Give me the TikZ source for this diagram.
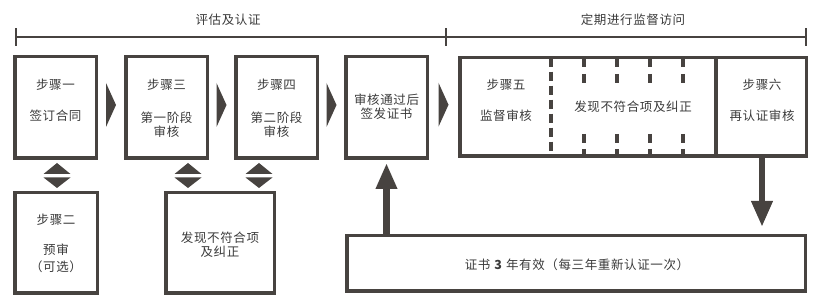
\documentclass[tikz,border=0pt]{standalone}
\usepackage{fontspec}
\setmainfont{Noto Sans CJK SC}[LetterSpace=5]
\usetikzlibrary{arrows.meta,calc}
\definecolor{rahmen}{HTML}{474340}
\definecolor{schrift}{HTML}{3A3A3A}

\begin{document}
\begin{tikzpicture}[
    x=1pt,
    y=-1pt,
    >={Triangle[width=20pt,length=26pt]},
    bloc/.style={
        draw=rahmen,
        line width=3.5pt,
        inner sep=0pt,
        minimum width=81.5pt,
        minimum height=101.5pt
    },
    texte/.style={
        text=schrift,
        align=center,
        inner sep=0pt,
        font=\fontsize{12.5}{14}\selectfont
    },
    trait/.style={
        draw=rahmen,
        line width=3.5pt
    },
    tirets/.style={
        trait,
        dash pattern=on 9pt off 5pt
    },
    accolade/.style={
        draw=rahmen,
        line width=2pt
    },
    fleche/.style={
        ->,
        draw=rahmen,
        fill=rahmen,
        line width=6.5pt
    },
    pics/echange/.style={
        code={
            \fill[rahmen] (-13.5,-1.5) -- (0,-12.5) -- (13.5,-1.5) -- cycle;
            \fill[rahmen] (-13.5,2) -- (0,12.5) -- (13.5,2) -- cycle;
        }
    }
]

\useasboundingbox (0,0) rectangle (820,304);

\coordinate (b0) at (15.5,37);
\coordinate (b1) at (446,37);
\coordinate (b2) at (806,37);
\draw[accolade] (b0) -- (b1) -- (b2);
\foreach \c in {b0,b1,b2}
    \draw[accolade] ([yshift=-9pt]\c) -- ([yshift=9pt]\c);
\node[texte] (titre1) at (228,20) {评估及认证};
\node[texte] (titre2) at (633,20) {定期进行监督访问};

\node[bloc] (s1) at (55.5,107.5) {};
\node[bloc] (s3) at (166.5,107.5) {};
\node[bloc] (s4) at (276.5,107.5) {};
\node[bloc] (cert) at (386.5,107.5) {};
\node[bloc, minimum width=346.5pt, minimum height=98.5pt] (aud) at (633,107) {};

\node[bloc, minimum width=82.5pt, minimum height=100.5pt] (s2) at (56,243) {};
\node[bloc, minimum width=108.5pt, minimum height=100.5pt] (nc) at (220,243) {};
\node[bloc, minimum width=458.5pt, minimum height=55.5pt] (bas) at (576,263.5) {};

\node[texte] (s1t) at (55.5,85) {步骤一};
\node[texte] (s1b) at (55.5,115.5) {签订合同};
\node[texte] (s3t) at (166.5,85) {步骤三};
\node[texte] (s3b) at (166.5,125) {第一阶段\\审核};
\node[texte] (s4t) at (276.5,85) {步骤四};
\node[texte] (s4b) at (276.5,125) {第二阶段\\审核};
\node[texte] (certt) at (386.5,106.5) {审核通过后\\签发证书};
\node[texte] (s5t) at (506,85) {步骤五};
\node[texte] (s5b) at (506,115.5) {监督审核};
\node[texte] (nct) at (633,107) {发现不符合项及纠正};
\node[texte] (s6t) at (762,85) {步骤六};
\node[texte] (s6b) at (762,115.5) {再认证审核};
\node[texte] (s2t) at (56,220) {步骤二};
\node[texte] (s2b) at (56,258.5) {预审\\[3pt]（可选）};
\node[texte] (ncb) at (220,245) {发现不符合项\\及纠正};
\node[texte] (bast) at (577,265) {证书 \textbf{3} 年有效（每三年重新认证一次）};

\draw[trait] (716,57.75) -- (716,156.25);
\draw[tirets] (551,57.75) -- (551,156.25);
\foreach \x in {584,617,650,683}
    \draw[trait] (\x,57) -- (\x,67) (\x,74) -- (\x,83) (\x,134) -- (\x,143) (\x,149) -- (\x,157);

\foreach \a/\b in {s1/s3,s3/s4,s4/cert,cert/aud}
    \fill[rahmen] ($(\a.east)!0.5!(\b.west)$) ++(-5,-24.5) -- ++(10,22) -- ++(-10,22) -- cycle;

\pic at (57,175.5) {echange};
\pic at (188,175.5) {echange};
\pic at (259,175.5) {echange};

\draw[fleche, shorten >=3pt] (bas.north -| cert.south) -- (cert.south);
\draw[fleche, shorten >=7pt] (aud.south -| s6t) -- (bas.north -| s6t);

\end{tikzpicture}
\end{document}
